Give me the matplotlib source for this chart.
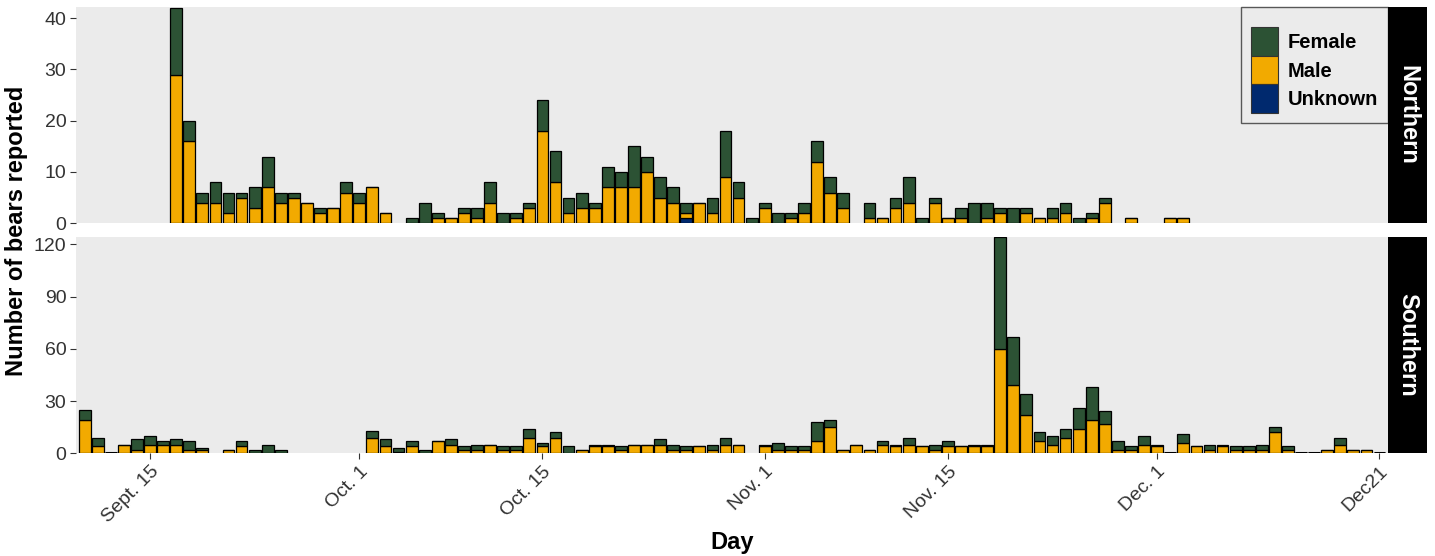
import matplotlib
matplotlib.use('Agg')
from matplotlib import pyplot as plt
from matplotlib.patches import Patch

plt.rcParams['font.family'] = ['Liberation Sans', 'DejaVu Sans']

# Day index counted from Sept. 15 (day 0)
north_days = [2, 3, 4, 5, 6, 7, 8, 9, 10, 11, 12, 13, 14, 15, 16, 17, 18,
              20, 21, 22, 23, 24, 25, 26, 27, 28, 29, 30, 31, 32, 33, 34, 35, 36,
              37, 38, 39, 40, 41, 42, 43, 44, 45, 46, 47, 48, 49, 50, 51, 52, 53,
              55, 56, 57, 58, 59, 60, 61, 62, 63, 64, 65, 66, 67, 68, 69, 70, 71,
              72, 73, 75, 78, 79]
north_male = [29, 16, 4, 4, 2, 5, 3, 7, 4, 5, 4, 2, 3, 6, 4, 7, 2,
              0, 0, 1, 1, 2, 1, 4, 0, 1, 3, 18, 8, 2, 3, 3, 7, 7,
              7, 10, 5, 4, 1, 4, 2, 9, 5, 0, 3, 0, 1, 2, 12, 6, 3,
              1, 1, 3, 4, 0, 4, 1, 1, 0, 1, 2, 0, 2, 1, 1, 2, 0,
              1, 4, 1, 1, 1]
north_female = [13, 4, 2, 4, 4, 1, 4, 6, 2, 1, 0, 1, 0, 2, 2, 0, 0,
                1, 4, 1, 0, 1, 2, 4, 2, 1, 1, 6, 6, 3, 3, 1, 4, 3,
                8, 3, 4, 3, 2, 0, 3, 9, 3, 1, 1, 2, 1, 2, 4, 3, 3,
                3, 0, 2, 5, 1, 1, 0, 2, 4, 3, 1, 3, 1, 0, 2, 2, 1,
                1, 1, 0, 0, 0]
north_unknown = [0] * 38 + [1] + [0] * 34

south_days = [-5, -4, -3, -2, -1, 0, 1, 2, 3, 4, 6, 7, 8, 9, 10,
              17, 18, 19, 20, 21, 22, 23, 24, 25, 26, 27, 28, 29, 30, 31, 32,
              33, 34, 35, 36, 37, 38, 39, 40, 41, 42, 43, 44, 45,
              47, 48, 49, 50, 51, 52, 53, 54, 55, 56, 57, 58, 59, 60, 61, 62,
              63, 64, 65, 66, 67, 68, 69, 70, 71, 72, 73, 74, 75, 76, 77, 78,
              79, 80, 81, 82, 83, 84, 85, 86, 87, 88, 89, 90, 91, 92, 93, 94]
south_male = [19, 4, 0, 5, 2, 5, 5, 5, 2, 2, 2, 4, 0, 0, 0,
              9, 4, 1, 4, 0, 7, 5, 2, 2, 5, 2, 2, 9, 4, 9, 0,
              2, 4, 4, 2, 5, 5, 5, 2, 2, 4, 2, 5, 5,
              4, 2, 2, 2, 7, 15, 2, 5, 2, 5, 4, 5, 4, 2, 4, 4,
              4, 4, 60, 39, 22, 7, 5, 9, 14, 19, 17, 2, 2, 5, 4, 0,
              6, 4, 2, 4, 2, 2, 2, 12, 2, 0, 0, 2, 5, 2, 2, 0]
south_female = [6, 5, 0, 0, 6, 5, 2, 3, 5, 1, 0, 3, 2, 5, 2,
                4, 4, 2, 3, 2, 0, 3, 2, 3, 0, 2, 2, 5, 2, 3, 4,
                0, 1, 1, 2, 0, 0, 3, 3, 2, 0, 3, 4, 0,
                1, 4, 2, 2, 11, 4, 0, 0, 0, 2, 1, 4, 0, 3, 3, 0,
                1, 1, 64, 28, 12, 5, 5, 5, 12, 19, 7, 5, 2, 5, 1, 0,
                5, 0, 3, 1, 2, 2, 3, 3, 2, 0, 0, 0, 4, 0, 0, 0]
south_unknown = [0] * len(south_days)

tick_days = [0, 16, 30, 47, 61, 77, 94]
tick_labels = ['Sept. 15', 'Oct. 1', 'Oct. 15', 'Nov. 1', 'Nov. 15', 'Dec. 1', 'Dec21']

col_female = '#2C5234'
col_male = '#F2AA00'
col_unknown = '#00296E'
panel_bg = '#EBEBEB'
txt_col = '#333333'

W, H = 1435, 556
fig = plt.figure(figsize=(W / 100, H / 100), dpi=100)

left, right = 76 / W, 1388 / W
top_ax = fig.add_axes([left, 1 - 223.3 / H, right - left, 216 / H])
bot_ax = fig.add_axes([left, 1 - 453.3 / H, right - left, 216 / H])

BAR_W = 0.9


def draw_panel(ax, days, unknown, male, female, ymax, yticks):
    bar_kw = dict(width=BAR_W, edgecolor='black', linewidth=0.9)
    ax.bar(days, unknown, color=col_unknown, **bar_kw)
    ax.bar(days, male, bottom=unknown, color=col_male, **bar_kw)
    base = [u + m for u, m in zip(unknown, male)]
    ax.bar(days, female, bottom=base, color=col_female, **bar_kw)
    # days reported with a count of zero still show a flat outline
    zero_days = [d for d, b, f in zip(days, base, female) if b + f == 0]
    ax.hlines([0] * len(zero_days), [d - BAR_W / 2 for d in zero_days],
              [d + BAR_W / 2 for d in zero_days], colors='black', linewidth=2.2)
    ax.set_facecolor(panel_bg)
    ax.set_xlim(-5.66, 94.65)
    ax.set_ylim(0, ymax)
    ax.set_yticks(yticks)
    for s in ax.spines.values():
        s.set_visible(False)
    ax.tick_params(axis='both', colors=txt_col, labelsize=14, length=4, width=0.8, pad=3)


draw_panel(top_ax, north_days, north_unknown, north_male, north_female, 42.1, [0, 10, 20, 30, 40])
draw_panel(bot_ax, south_days, south_unknown, south_male, south_female, 124, [0, 30, 60, 90, 120])

top_ax.set_xticks([])
bot_ax.set_xticks(tick_days)
bot_ax.set_xticklabels(tick_labels, rotation=45, ha='right', va='top', rotation_mode='anchor')

# facet strips
for ax, name in [(top_ax, 'Northern'), (bot_ax, 'Southern')]:
    pos = ax.get_position()
    strip = fig.add_axes([1388 / W, pos.y0, 39 / W, pos.height])
    strip.set_facecolor('black')
    strip.set_xticks([])
    strip.set_yticks([])
    for s in strip.spines.values():
        s.set_visible(False)
    strip.text(0.5, 0.5, name, rotation=-90, color='white', fontsize=17, fontweight='bold',
               ha='center', va='center', transform=strip.transAxes)

handles = [Patch(facecolor=col_female, edgecolor='#333333', linewidth=0.8),
           Patch(facecolor=col_male, edgecolor='#333333', linewidth=0.8),
           Patch(facecolor=col_unknown, edgecolor='#333333', linewidth=0.8)]
leg = top_ax.legend(handles, ['Female', 'Male', 'Unknown'], loc='upper right',
                    bbox_to_anchor=(1.0, 1.0), borderaxespad=0, frameon=True, fancybox=False,
                    prop={'size': 14.5, 'weight': 'bold'}, handlelength=1.35, handleheight=1.8,
                    labelspacing=0.0, handletextpad=0.45, borderpad=0.5,
                    title=' ', title_fontsize=8)
leg.get_frame().set_facecolor(panel_bg)
leg.get_frame().set_edgecolor('#333333')
leg.get_frame().set_linewidth(1.0)

fig.text(17 / W, 1 - 231 / H, 'Number of bears reported', rotation=90, ha='center', va='center',
         fontsize=17, fontweight='bold')
fig.text(732 / W, 1 - 543 / H, 'Day', ha='center', va='center', fontsize=17, fontweight='bold')

fig.savefig('out.png', dpi=100)
